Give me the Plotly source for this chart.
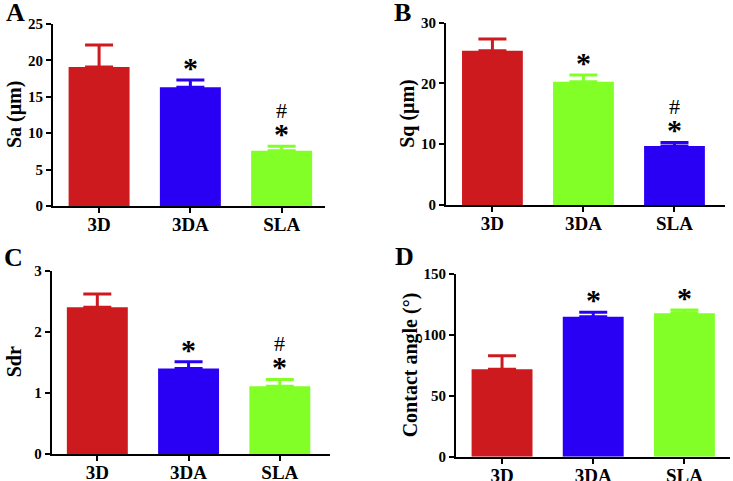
import plotly.graph_objects as go

# ---------------- data ----------------
categories = ["3D", "3DA", "SLA"]

sa_mean = [19.1, 16.3, 7.6]
sa_err = [3.0, 1.0, 0.6]

sq_mean = [25.4, 20.3, 9.7]
sq_err = [1.9, 1.1, 0.6]

sdr_mean = [2.40, 1.40, 1.11]
sdr_err = [0.22, 0.11, 0.11]

ca_mean = [71.8, 115.0, 117.7]
ca_err = [11.0, 3.6, 2.7]

RED = "#CC1A1F"
BLUE = "#2A00F5"
GREEN = "#82FF26"

panels = [
    dict(letter="A", title="Sa (μm)", mean=sa_mean, err=sa_err,
         colors=[RED, BLUE, GREEN], marks=["", "*", "#*"],
         ymax=25, dtick=5),
    dict(letter="B", title="Sq (μm)", mean=sq_mean, err=sq_err,
         colors=[RED, GREEN, BLUE], marks=["", "*", "#*"],
         ymax=30, dtick=10),
    dict(letter="C", title="Sdr", mean=sdr_mean, err=sdr_err,
         colors=[RED, BLUE, GREEN], marks=["", "*", "#*"],
         ymax=3, dtick=1),
    dict(letter="D", title="Contact angle (°)", mean=ca_mean, err=ca_err,
         colors=[RED, BLUE, GREEN], marks=["", "*", "*"],
         ymax=150, dtick=50),
]

# layout geometry (paper fractions)
W, H = 733, 481
xdomains = [(53 / W, 325 / W), (446 / W, 725 / W), (51.7 / W, 330 / W), (456 / W, 730 / W)]
ydomains = [(1 - 206 / H, 1 - 24 / H), (1 - 205 / H, 1 - 22.7 / H),
            (1 - 454 / H, 1 - 270.7 / H), (1 - 456.7 / H, 1 - 274 / H)]
xranges = [(-0.505, 2.475), (-0.51, 2.555), (-0.50, 2.55), (-0.505, 2.50)]
letter_pos = [(4, 13), (392, 13), (2, 257), (393, 256)]
title_x = [14, 408, 14, 410]

FONT = "Liberation Serif"

fig = go.Figure()
annotations = []
layout = dict(
    width=W, height=H,
    margin=dict(l=0, r=0, t=0, b=0, autoexpand=False),
    paper_bgcolor="white", plot_bgcolor="white",
    showlegend=False,
    barmode="overlay",
    font=dict(family=FONT, color="black"),
)

for i, p in enumerate(panels):
    n = "" if i == 0 else str(i + 1)
    xa, ya = "x" + n, "y" + n
    for j, c in enumerate(categories):
        fig.add_trace(go.Bar(
            x=[c], y=[p["mean"][j]], xaxis=xa, yaxis=ya,
            marker=dict(color=p["colors"][j], line=dict(width=0)),
            error_y=dict(type="data", array=[p["err"][j]], arrayminus=[0],
                         thickness=3, width=14, color=p["colors"][j]),
            width=0.668, hoverinfo="skip",
        ))
    layout["xaxis" + n] = dict(
        domain=list(xdomains[i]), anchor=ya, type="category",
        categoryorder="array", categoryarray=categories, automargin=False,
        range=list(xranges[i]), showline=True, linecolor="black", linewidth=2,
        ticks="outside", ticklen=5, tickwidth=2, tickcolor="black",
        ticklabelstandoff=-5,
        tickfont=dict(family=FONT, size=19, weight="bold", color="black"),
        showgrid=False, zeroline=False, fixedrange=True,
    )
    layout["yaxis" + n] = dict(
        domain=list(ydomains[i]), anchor=xa, range=[0, p["ymax"]],
        dtick=p["dtick"], tick0=0, automargin=False,
        showline=True, linecolor="black", linewidth=2,
        ticks="outside", ticklen=5, tickwidth=2, tickcolor="black",
        tickfont=dict(family=FONT, size=15, weight="bold", color="black"),
        showgrid=False, zeroline=False, fixedrange=True,
    )
    # y-axis title
    yd = ydomains[i]
    annotations.append(dict(
        text=p["title"], xref="paper", yref="paper",
        x=title_x[i] / W, y=(yd[0] + yd[1]) / 2, textangle=-90,
        showarrow=False, xanchor="center", yanchor="middle",
        font=dict(family=FONT, size=20, weight="bold", color="black"),
    ))
    # panel letter
    lx, ly = letter_pos[i]
    annotations.append(dict(
        text=p["letter"], xref="paper", yref="paper",
        x=lx / W, y=1 - ly / H, xanchor="left", yanchor="middle",
        showarrow=False,
        font=dict(family=FONT, size=26, weight="bold", color="black"),
    ))
    # significance marks
    for j, c in enumerate(categories):
        mk = p["marks"][j]
        top = p["mean"][j] + p["err"][j]
        if "*" in mk:
            annotations.append(dict(
                text="*", xref=xa, yref=ya, x=c, y=top,
                xanchor="center", yanchor="bottom", yshift=-6,
                showarrow=False,
                font=dict(family=FONT, size=30, weight="bold", color="black"),
            ))
        if "#" in mk:
            annotations.append(dict(
                text="#", xref=xa, yref=ya, x=c, y=top,
                xanchor="center", yanchor="bottom", yshift=21,
                showarrow=False,
                font=dict(family=FONT, size=22, color="black"),
            ))

layout["annotations"] = annotations
fig.update_layout(**layout)

fig.write_html(
    "out.html",
    config={"displayModeBar": False},
    post_script="document.body.style.margin='0';document.body.style.overflow='hidden';",
)
